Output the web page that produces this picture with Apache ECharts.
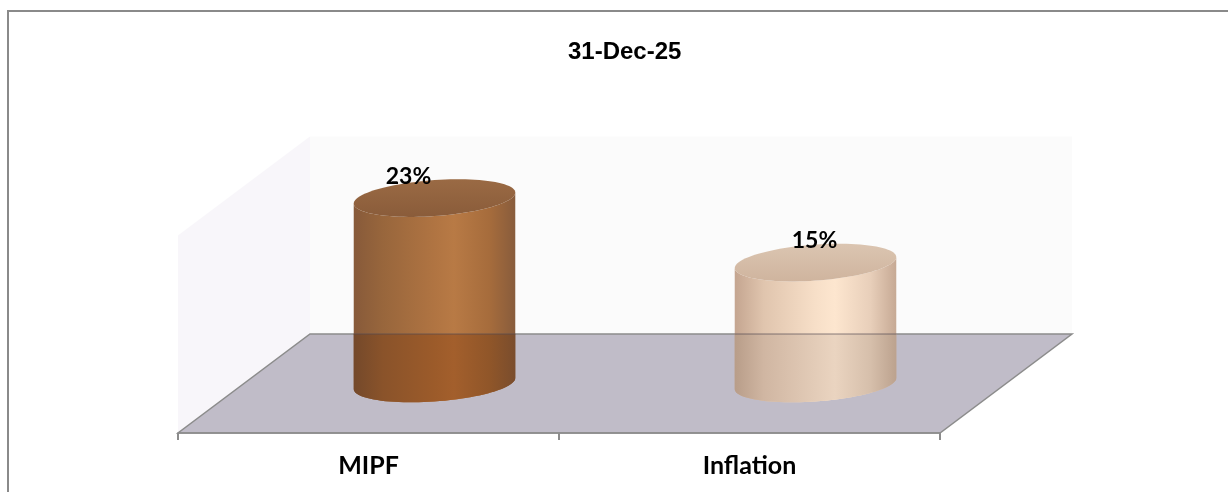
<!DOCTYPE html>
<html>
<head>
<meta charset="utf-8">
<title>31-Dec-25</title>
<script src="https://cdn.jsdelivr.net/npm/echarts@6/dist/echarts.min.js"></script>
<style>
  html, body { margin: 0; padding: 0; background: #ffffff; }
  #chart { width: 1228px; height: 492px; }
</style>
</head>
<body>
<div id="chart"></div>
<script>
// ---- data ----
const titleText = '31-Dec-25';
const categories = ['MIPF', 'Inflation'];
const returns = [23, 15];          // percent

// ---- look ----
const labelShiftX = [-26, -1];     // value label nudge per column
const DEPTH_X = 132;               // 3D floor depth, horizontal component
const DEPTH_Y = 99;                // 3D floor depth, vertical component

const cylColors = [
  {
    side: ['#875a3a', '#98663c', '#b07442', '#b87a45', '#a66c3c', '#885c3c'],
    lower: ['#74492b', '#8a532a', '#9c5b2a', '#a35f2c', '#905629', '#7a4d2d'],
    top: ['#9a6a44', '#8a5c3a']
  },
  {
    side: ['#c4a590', '#e0c5ae', '#f7dfc8', '#fde6cf', '#e8cfba', '#c6a994'],
    lower: ['#b89d89', '#d0b6a2', '#e3ccb8', '#ead4c0', '#d6bfab', '#bca28e'],
    top: ['#dbc5b1', '#cfb49e']
  }
];

function grad(stops) {
  const pos = [0, 0.18, 0.5, 0.62, 0.84, 1];
  return new echarts.graphic.LinearGradient(0, 0, 1, 0,
    stops.map((c, i) => ({ offset: pos[i], color: c })));
}

// points along a slightly sheared ellipse (left side sits lower than right)
function arc(cx, cy, rx, ry, k, t0, t1, n) {
  const pts = [];
  for (let j = 0; j <= n; j++) {
    const t = t0 + (t1 - t0) * j / n;
    pts.push([cx + rx * Math.cos(t), cy + ry * Math.sin(t) - k * Math.cos(t)]);
  }
  return pts;
}

// walls and floor of the 3D plot area
function renderFrame(params) {
  const cs = params.coordSys;
  const x0 = cs.x, x1 = cs.x + cs.width;
  const yT = cs.y, yB = cs.y + cs.height;
  const bx0 = x0 + DEPTH_X, bx1 = x1 + DEPTH_X;
  const byT = yT - DEPTH_Y, byB = yB - DEPTH_Y;
  return {
    type: 'group',
    children: [
      { type: 'polygon', shape: { points: [[bx0, byT], [bx1, byT], [bx1, byB], [bx0, byB]] },
        style: { fill: '#fbfbfb' } },
      { type: 'polygon', shape: { points: [[x0, yT], [bx0, byT], [bx0, byB], [x0, yB]] },
        style: { fill: '#f8f6fa' } },
      { type: 'polygon', shape: { points: [[x0, yB], [x1, yB], [bx1, byB], [bx0, byB]] },
        style: { fill: '#c0bcc8', stroke: '#8c8c8c', lineWidth: 1.5 } }
    ]
  };
}

function renderCylinder(params, api) {
  const i = params.dataIndex;
  const v = api.value(1);
  const base = api.coord([api.value(0), 0]);
  const top = api.coord([api.value(0), v]);
  const band = api.size([1, 0])[0];
  const rx = band * 0.212, ry = 18, k = 5.5;
  const cx = base[0] + DEPTH_X / 2;
  const by = base[1] - DEPTH_Y / 2;
  const ty = top[1] - DEPTH_Y / 2;
  const floorY = base[1] - DEPTH_Y;
  const col = cylColors[i % cylColors.length];

  const bottomArc = arc(cx, by, rx, ry, k, Math.PI, 0, 48);
  const topFront = arc(cx, ty, rx, ry, k, 0, Math.PI, 48);
  const topFull = arc(cx, ty, rx, ry, k, 0, Math.PI * 2, 96);
  const lower = [[cx - rx, floorY]].concat(bottomArc, [[cx + rx, floorY]]);

  return {
    type: 'group',
    children: [
      { type: 'polygon', shape: { points: bottomArc.concat(topFront) },
        style: { fill: grad(col.side) } },
      { type: 'polygon', shape: { points: lower },
        style: { fill: grad(col.lower) } },
      { type: 'line', shape: { x1: cx - rx, y1: floorY, x2: cx + rx, y2: floorY },
        style: { stroke: 'rgba(80,70,80,0.45)', lineWidth: 1.5 } },
      { type: 'polygon', shape: { points: topFull },
        style: { fill: new echarts.graphic.LinearGradient(0, 0, 0, 1, [
          { offset: 0, color: col.top[0] }, { offset: 1, color: col.top[1] }]) } },
      { type: 'text',
        style: {
          text: v + '%', x: cx + labelShiftX[i], y: ty - 22,
          align: 'center', verticalAlign: 'middle',
          fontFamily: 'Lato', fontWeight: 'bold', fontSize: 23, fill: '#000'
        } }
    ]
  };
}

const chart = echarts.init(document.getElementById('chart'), null, { renderer: 'canvas' });
chart.setOption({
  animation: false,
  backgroundColor: '#ffffff',
  title: {
    text: titleText,
    left: 563,
    top: 35,
    textStyle: { fontFamily: 'Liberation Sans', fontWeight: 'bold', fontSize: 24, color: '#000' }
  },
  grid: { left: 178, right: 288, top: 235.5, bottom: 59 },
  xAxis: {
    type: 'category',
    data: categories,
    z: 5,
    axisLine: { show: true, lineStyle: { color: '#8c8c8c', width: 1.5 } },
    axisTick: { show: true, alignWithLabel: false, length: 7, lineStyle: { color: '#8c8c8c', width: 2 } },
    axisLabel: { margin: 20, fontFamily: 'Lato', fontWeight: 'bold', fontSize: 25, color: '#000' }
  },
  yAxis: { type: 'value', min: 0, max: 24.5, show: false },
  graphic: [{
    type: 'rect',
    shape: { x: 8, y: 11, width: 1240, height: 500 },
    style: { fill: 'none', stroke: '#8a8a8a', lineWidth: 2 },
    z: 10
  }],
  series: [
    {
      type: 'custom',
      renderItem: renderFrame,
      data: [[0, 0]],
      clip: false,
      silent: true,
      z: 1
    },
    {
      type: 'custom',
      renderItem: renderCylinder,
      data: returns.map((v, i) => [i, v]),
      clip: false,
      z: 3
    }
  ]
});
</script>
</body>
</html>
